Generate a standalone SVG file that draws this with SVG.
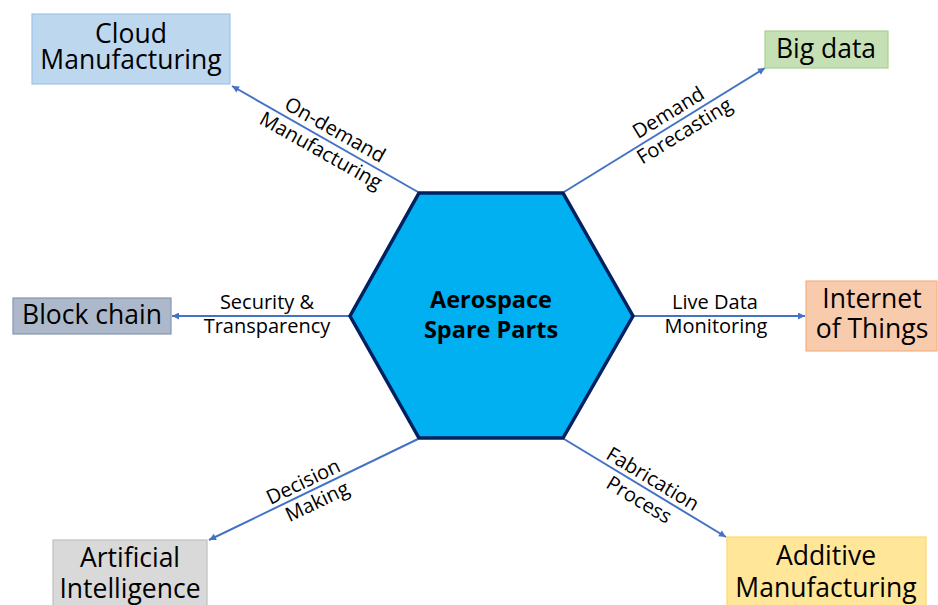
<svg xmlns="http://www.w3.org/2000/svg" width="938" height="605" viewBox="0 0 938 605">
<defs>
<marker id="arr" viewBox="0 0 10 10" refX="10" refY="5" markerWidth="8" markerHeight="7" markerUnits="userSpaceOnUse" orient="auto">
<path d="M0,0 L10,5 L0,10 z" fill="#4472C4"/>
</marker>
<style>
.box{stroke-width:1.2}
.bt{font-family:"Open Sans","DejaVu Sans",sans-serif;font-size:26.5px;fill:#000;text-anchor:middle}
.lt{font-family:"Open Sans","DejaVu Sans",sans-serif;font-size:20px;fill:#000;text-anchor:middle}
.ct{font-family:"Open Sans","DejaVu Sans",sans-serif;font-size:23.5px;font-weight:bold;fill:#000;text-anchor:middle}
.con{stroke:#4472C4;stroke-width:2;fill:none;marker-end:url(#arr)}
</style>
</defs>
<rect width="938" height="605" fill="#fff"/>
<g id="connectors">
<line class="con" x1="418" y1="192" x2="232" y2="86"/>
<line class="con" x1="564" y1="192" x2="765" y2="68"/>
<line class="con" x1="350" y1="316" x2="172" y2="316"/>
<line class="con" x1="633" y1="316" x2="805" y2="316"/>
<line class="con" x1="418" y1="439" x2="209" y2="540"/>
<line class="con" x1="564" y1="439" x2="726" y2="537"/>
</g>
<g id="labels">
<g transform="translate(327,140) rotate(29.4)"><text class="lt" x="2" y="-6">On-demand</text><text class="lt" x="0" y="19">Manufacturing</text></g>
<g transform="translate(676,123) rotate(-31.6)"><text class="lt" x="-1" y="-6">Demand</text><text class="lt" x="3" y="18">Forecasting</text></g>
<g transform="translate(267,316)"><text class="lt" x="0" y="-7">Security &amp;</text><text class="lt" x="0" y="17">Transparency</text></g>
<g transform="translate(715,316)"><text class="lt" x="0" y="-7">Live Data</text><text class="lt" x="1" y="17">Monitoring</text></g>
<g transform="translate(311,491) rotate(-25.6)"><text class="lt" x="-3" y="-5">Decision</text><text class="lt" x="1" y="19">Making</text></g>
<g transform="translate(645,488) rotate(31.06)"><text class="lt" x="2" y="-5">Fabrication</text><text class="lt" x="1" y="20">Process</text></g>
</g>
<g id="hub">
<polygon points="419,193 563,193 633,316 563,438 419,438 350,316" fill="#00B0F0" stroke="#002060" stroke-width="3.5" stroke-linejoin="miter"/>
<text class="ct"><tspan x="491" y="308">Aerospace</tspan><tspan x="491" y="338">Spare Parts</tspan></text>
</g>
<g id="cloud">
<rect class="box" x="32" y="14" width="198" height="70" fill="#BDD7EE" stroke="#9DC3E6"/>
<text class="bt"><tspan x="131" y="43">Cloud</tspan><tspan x="131" y="69">Manufacturing</tspan></text>
</g>
<g id="bigdata">
<rect class="box" x="765" y="31" width="123" height="37" fill="#C5E0B4" stroke="#A9D18E"/>
<text class="bt" x="826" y="58">Big data</text>
</g>
<g id="blockchain">
<rect class="box" x="13" y="298" width="158" height="36" fill="#ADB9CA" stroke="#8497B0"/>
<text class="bt" x="92" y="324">Block chain</text>
</g>
<g id="iot">
<rect class="box" x="806" y="281" width="131" height="70" fill="#F8CBAD" stroke="#F4B183"/>
<text class="bt"><tspan x="872" y="308">Internet</tspan><tspan x="872" y="338">of Things</tspan></text>
</g>
<g id="ai">
<rect class="box" x="53" y="540" width="154" height="70" fill="#D9D9D9" stroke="#BFBFBF"/>
<text class="bt"><tspan x="130" y="567">Artificial</tspan><tspan x="130" y="598">Intelligence</tspan></text>
</g>
<g id="additive">
<rect class="box" x="727" y="537" width="199" height="73" fill="#FFE699" stroke="#FFD966"/>
<text class="bt"><tspan x="826" y="565">Additive</tspan><tspan x="826" y="597">Manufacturing</tspan></text>
</g>
</svg>
